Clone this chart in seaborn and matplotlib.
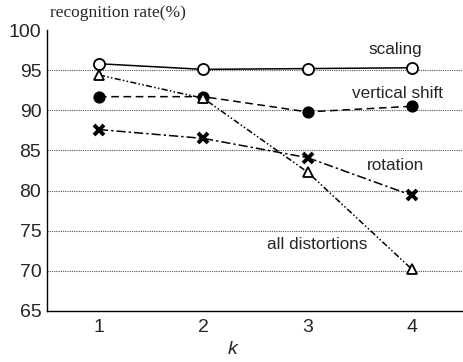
import numpy as np
import pandas as pd
import seaborn as sns
import matplotlib
matplotlib.use('Agg')
import matplotlib.pyplot as plt

k = [1, 2, 3, 4]
scaling = [95.8, 95.1, 95.2, 95.3]
vertical_shift = [91.7, 91.7, 89.8, 90.5]
rotation = [87.6, 86.5, 84.1, 79.4]
all_distortions = [94.4, 91.5, 82.3, 70.2]
yticks = [65, 70, 75, 80, 85, 90, 95, 100]

sns.set_style('white')
plt.rcParams['font.family'] = ['Liberation Sans', 'DejaVu Sans']

fig = plt.figure(figsize=(4.64, 3.62), dpi=100)
ax = fig.add_axes([0.101, 0.141, 0.899, 0.776])

# name, values, linestyle, marker, face colour, marker size
series = [
    ('scaling', scaling, '-', 'o', 'white', 8),
    ('vertical shift', vertical_shift, (0, (5, 3)), 'o', 'black', 7.5),
    ('rotation', rotation, (0, (6, 2, 1.5, 2)), 'x', 'black', 7),
    ('all distortions', all_distortions, (0, (4, 1.5, 1, 1.5, 1, 1.5)), '^', 'white', 7.5),
]
for name, vals, ls, mk, fc, ms in series:
    df = pd.DataFrame({'k': k, 'rate': vals})
    sns.lineplot(data=df, x='k', y='rate', ax=ax, color='black', linestyle=ls,
                 linewidth=1.1, marker=mk, markersize=ms,
                 markerfacecolor=fc, markeredgecolor='black',
                 markeredgewidth=1.3 if mk != 'x' else 2.8, zorder=3)

ax.set_xlim(0.5, 4.5)
ax.set_ylim(65, 100)
ax.set_xticks(k)
ax.set_yticks(yticks)
ax.tick_params(axis='both', labelsize=14, direction='in', length=3, width=0.8)
ax.tick_params(axis='x', pad=6)
ax.tick_params(axis='y', length=0, pad=4)
ax.set_xlabel('')
ax.set_ylabel('')
for s in ['top', 'right']:
    ax.spines[s].set_visible(False)
for s in ['left', 'bottom']:
    ax.spines[s].set_color('black')
    ax.spines[s].set_linewidth(1.0)

for y in yticks[1:-1]:
    ax.axhline(y, color='#555555', linestyle=(0, (1, 1)), linewidth=0.8, zorder=1)

ax.text(3.84, 97.6, 'scaling', fontsize=12.3, ha='center', va='center')
ax.text(3.86, 92.1, 'vertical shift', fontsize=12.3, ha='center', va='center')
ax.text(3.84, 83.1, 'rotation', fontsize=12.3, ha='center', va='center')
ax.text(3.09, 73.3, 'all distortions', fontsize=12.3, ha='center', va='center')

fig.text(0.108, 0.965, 'recognition rate(%)', family=['Liberation Serif'],
         fontsize=12.5, ha='left', va='center')
fig.text(233 / 464, 1 - 350 / 362, 'k', fontsize=14, style='italic',
         ha='center', va='center')

fig.savefig('out.png', dpi=100)
